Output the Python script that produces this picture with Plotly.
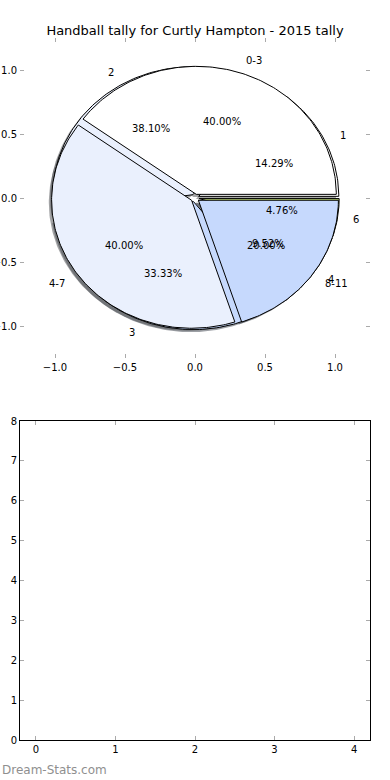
import numpy as np
import plotly.graph_objects as go

TITLE = "Handball tally for Curtly Hampton - 2015 tally"
age_labels = ["0-3", "4-7", "8-11"]
age_values = [4, 4, 2]
tally_labels = ["1", "2", "3", "4", "6"]
tally_values = [3, 8, 7, 2, 1]
slice_colors = ["#ffffff", "#eaf0fd", "#c6d9fd", "#e2ebf9", "#c4dd78"]
pie_ticks = [-1.0, -0.5, 0.0, 0.5, 1.0]
bar_xticks = [0, 1, 2, 3, 4]
bar_yticks = [0, 1, 2, 3, 4, 5, 6, 7, 8]
WATERMARK = "Dream-Stats.com"

EXPLODE = 0.03
SHADOW = 0.02
FONT = "DejaVu Sans"


def wedges(values):
    total = float(sum(values))
    out = []
    start = 0.0
    for v in values:
        frac = v / total
        t1, t2 = 360 * start, 360 * (start + frac)
        mid = np.deg2rad((t1 + t2) / 2)
        cx, cy = EXPLODE * np.cos(mid), EXPLODE * np.sin(mid)
        t = np.deg2rad(np.linspace(t1, t2, int(abs(t2 - t1)) + 2))
        xs = np.concatenate([[cx], cx + np.cos(t), [cx]])
        ys = np.concatenate([[cy], cy + np.sin(t), [cy]])
        out.append(dict(x=xs, y=ys, mid=mid, cx=cx, cy=cy, pct=100 * frac))
        start += frac
    return out


def shade(hexcol):
    h = hexcol.lstrip("#")
    r, g, b = (int(h[i:i + 2], 16) for i in (0, 2, 4))
    return "rgba(%d,%d,%d,0.5)" % (0.3 * r, 0.3 * g, 0.3 * b)


fig = go.Figure()
pies = [(tally_labels, wedges(tally_values)), (age_labels, wedges(age_values))]

# shadows (below every wedge)
for labels, ws in pies:
    for i, w in enumerate(ws):
        fig.add_trace(go.Scatter(x=w["x"] - SHADOW, y=w["y"] - SHADOW, mode="lines",
                                 fill="toself", fillcolor=shade(slice_colors[i]),
                                 line=dict(width=0), hoverinfo="skip",
                                 xaxis="x", yaxis="y"))
# wedges
for labels, ws in pies:
    for i, w in enumerate(ws):
        fig.add_trace(go.Scatter(x=w["x"], y=w["y"], mode="lines", fill="toself",
                                 fillcolor=slice_colors[i],
                                 line=dict(color="black", width=1),
                                 hoverinfo="skip", xaxis="x", yaxis="y"))

# empty lower axes
fig.add_trace(go.Scatter(x=[], y=[], mode="markers", xaxis="x2", yaxis="y2"))

annotations = []
for labels, ws in pies:
    for lab, w in zip(labels, ws):
        lx = w["cx"] + 1.1 * np.cos(w["mid"])
        ly = w["cy"] + 1.1 * np.sin(w["mid"])
        annotations.append(dict(x=lx, y=ly, xref="x", yref="y", text=lab,
                                showarrow=False, xanchor="left" if lx > 0 else "right",
                                yanchor="middle", font=dict(size=10, color="black", family=FONT)))
        px = w["cx"] + 0.6 * np.cos(w["mid"])
        py = w["cy"] + 0.6 * np.sin(w["mid"])
        annotations.append(dict(x=px, y=py, xref="x", yref="y", text="%.2f%%" % w["pct"],
                                showarrow=False, xanchor="center", yanchor="middle",
                                font=dict(size=10, color="black", family=FONT)))

annotations.append(dict(x=0.0, y=1 - 770 / 780, xref="paper", yref="paper", text=WATERMARK,
                        showarrow=False, xanchor="left", yanchor="middle",
                        font=dict(size=12, color="#8f8f8f", family=FONT)))

tick_common = dict(ticks="inside", ticklen=4, tickwidth=1, tickcolor="#aaaaaa",
                   showgrid=False, zeroline=False, automargin=False,
                   tickfont=dict(size=10, color="black", family=FONT))

fig.update_layout(
    width=390, height=780, margin=dict(l=0, r=0, t=0, b=0, autoexpand=False),
    paper_bgcolor="white", plot_bgcolor="white", showlegend=False,
    title=dict(text=TITLE, x=0.5, xanchor="center", y=1 - 30 / 780, yanchor="middle",
               font=dict(size=13, color="black", family=FONT), automargin=False),
    xaxis=dict(domain=[20 / 390, 370 / 390], range=[-1.25, 1.25], tickvals=pie_ticks,
               tickformat=".1f", anchor="y", showline=True, linecolor="rgba(0,0,0,0)",
               mirror="ticks", **tick_common),
    yaxis=dict(domain=[1 - 358 / 780, 1 - 38 / 780], range=[-1.25, 1.25], tickvals=pie_ticks,
               tickformat=".1f", anchor="x", showline=True, linecolor="rgba(0,0,0,0)",
               mirror="ticks", **tick_common),
    xaxis2=dict(domain=[20 / 390, 370 / 390], range=[-0.2, 4.2], tickvals=bar_xticks,
                anchor="y2", showline=True, linecolor="black", linewidth=1,
                mirror="ticks", **tick_common),
    yaxis2=dict(domain=[1 - 740 / 780, 1 - 421 / 780], range=[0, 8], tickvals=bar_yticks,
                anchor="x2", showline=True, linecolor="black", linewidth=1,
                mirror="ticks", **tick_common),
    annotations=annotations,
    hovermode=False,
)

fig.write_html("out.html", config={"displayModeBar": False},
               post_script="document.body.style.margin='0';document.body.style.overflow='hidden';")
